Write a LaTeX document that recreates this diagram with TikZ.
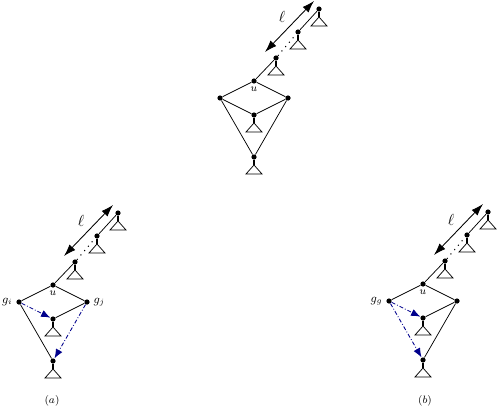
\documentclass[tikz,border=0pt]{standalone}
\usepackage{amsmath}
\usepackage{amssymb}
\usetikzlibrary{arrows.meta,positioning}
\definecolor{navyblue}{rgb}{0,0,0.55}

\tikzset{
  dot/.style={circle, fill, inner sep=0pt, minimum size=3.9pt},
  lab/.style={font=\footnotesize, inner sep=1pt},
  glab/.style={font=\small, inner sep=1pt},
  ellarrow/.style={line width=0.65pt, {Latex[length=9pt,width=6pt]}-{Latex[length=9pt,width=6pt]}},
  bluearc/.style={navyblue, line width=0.65pt, dash pattern=on 3pt off 1.5pt on 0.6pt off 1.5pt, -{Latex[length=7pt,width=5.5pt]}},
}

\newcommand{\subtree}[1]{%
  \draw[line width=0.8pt] (#1) -- ++(0,8) coordinate (#1t);
  \draw (#1t) -- ++(-8,9) -- ++(16,0) -- cycle;}

\newcommand{\gadget}[3]{%
  \begin{scope}[shift={(#2,#3)}, name prefix=#1-, line width=0.55pt]
    \node[dot] (u) at (0,0) {};
    \node[dot] (l) at (-34,17) {};
    \node[dot] (r) at (34,17) {};
    \node[dot] (m) at (0,34) {};
    \node[dot] (b) at (0,76) {};
    \node[dot] (c1) at (22,-23) {};
    \node[dot] (c2) at (44,-49) {};
    \node[dot] (c3) at (65,-72) {};
    \coordinate (e1) at (11,-29);
    \coordinate (e2) at (60,-80);
    \node[lab, below=0.8pt of u] (ulab) {$u$};
    \draw (u) -- (l);
    \draw (u) -- (r);
    \draw (u) -- (c1);
    \draw[line width=0.8pt, dash pattern=on 0.8pt off 3.5pt] (c1) -- (c2);
    \draw (c2) -- (c3);
    \subtree{m}
    \subtree{b}
    \subtree{c1}
    \subtree{c2}
    \subtree{c3}
    \draw[ellarrow] (e1) -- node[above left=-1pt, font=\large] (ell) {$\ell$} (e2);
  \end{scope}}

\begin{document}
\begin{tikzpicture}[x=0.75pt, y=-0.75pt, line width=0.55pt]
  \useasboundingbox (0,0) rectangle (499,407);

  \gadget{t}{254}{81}
  \draw (t-l) -- (t-m);
  \draw (t-r) -- (t-m);
  \draw (t-l) -- (t-b);
  \draw (t-r) -- (t-b);

  \gadget{a}{53}{285}
  \draw (a-l) -- (a-b);
  \draw (a-r) -- (a-m);
  \draw[bluearc] (a-l) -- (a-m);
  \draw[bluearc] (a-r) -- (a-b);
  \node[glab, left=1.5pt of a-l] (gi) {$g_i$};
  \node[glab, right=1.5pt of a-r] (gj) {$g_j$};
  \node[lab] (capa) at (52,401) {$(a)$};

  \gadget{b}{423}{284}
  \draw (b-r) -- (b-m);
  \draw (b-r) -- (b-b);
  \draw[bluearc] (b-l) -- (b-m);
  \draw[bluearc] (b-l) -- (b-b);
  \node[glab, left=1.5pt of b-l] (gg) {$g_g$};
  \node[lab] (capb) at (425,401) {$(b)$};
\end{tikzpicture}
\end{document}
